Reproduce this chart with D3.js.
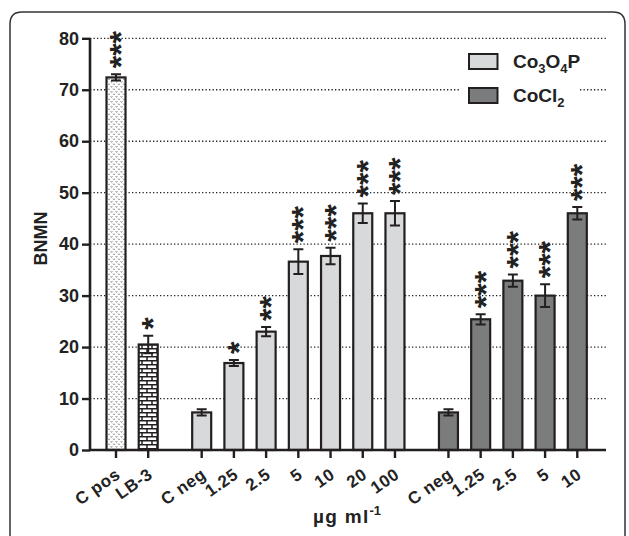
<!DOCTYPE html>
<html><head><meta charset="utf-8">
<script src="https://cdn.jsdelivr.net/npm/d3@7"></script>
<style>
html,body{margin:0;padding:0;background:#fff;}
svg{display:block;}
</style></head>
<body>
<svg id="c" width="629" height="536" font-family="Liberation Sans, Arial, sans-serif" font-weight="bold"></svg>
<script>
const labels = ["C pos","LB-3","C neg","1.25","2.5","5","10","20","100","C neg","1.25","2.5","5","10"];
const groups = [0,0,1,1,1,1,1,1,1,2,2,2,2,2];
const values = [72.4,20.5,7.3,16.9,23.0,36.6,37.7,46.0,46.0,7.3,25.4,32.9,30.0,46.0];
const errors = [0.6,1.7,0.6,0.6,0.9,2.4,1.6,1.9,2.4,0.6,1.0,1.2,2.2,1.2];
const stars  = [3,1,0,1,2,3,3,3,3,0,3,3,3,3];
const fillKeys = ["stipple","brick","light","light","light","light","light","light","light","dark","dark","dark","dark","dark"];
const yTicks = [0,10,20,30,40,50,60,70,80];

const groupGap = 0.66;
const slots = labels.map((d,i)=> i + groups[i]*groupGap);
const rows = values.map((v,i)=>({i, v, e:errors[i], s:stars[i], slot:slots[i], fill:fillKeys[i]}));

const svg = d3.select("#c");
const colors = {light:"#d8d9da", dark:"#7b7c7e", stroke:"#231f20"};

// patterns
const defs = svg.append("defs");
const pS = defs.append("pattern").attr("id","stipple").attr("patternUnits","userSpaceOnUse")
  .attr("width",5).attr("height",5);
pS.append("rect").attr("width",5).attr("height",5).attr("fill","#fff");
pS.append("path").attr("d","M0.5,1 L1.5,2.5 L2.5,1 M3,3.5 L4,5 L5,3.5").attr("stroke","#8a8a8a").attr("stroke-width",0.8).attr("fill","none");
const pB = defs.append("pattern").attr("id","brick").attr("patternUnits","userSpaceOnUse")
  .attr("width",10).attr("height",8);
pB.append("rect").attr("width",10).attr("height",8).attr("fill","#fff");
pB.append("path").attr("d","M0,0.75 H10 M0,4.75 H10 M2,0.75 V4.75 M7,4.75 V8.75")
  .attr("stroke",colors.stroke).attr("stroke-width",1.5).attr("fill","none");

// frame
svg.append("path")
  .attr("d","M10,560 V24 Q10,12 22,12 H613 Q625,12 625,24 V560")
  .attr("fill","none").attr("stroke","#333").attr("stroke-width",1.5);

const y = d3.scaleLinear().domain([0,80]).range([450,38.3]);
const x = d3.scaleLinear().domain([0,14.32]).range([116,577.3]);
const xLeft = 90, xRight = 606;
const barW = 19;

// gridlines
svg.append("g").selectAll("line").data(yTicks.filter(t=>t>0)).join("line")
  .attr("x1",xLeft).attr("x2",xRight).attr("y1",d=>y(d)).attr("y2",d=>y(d))
  .attr("stroke","#222").attr("stroke-width",1.3).attr("stroke-dasharray","1.3,2.2");

// legend background
svg.append("rect").attr("x",459).attr("y",45).attr("width",119).attr("height",70).attr("fill","#fff");

// bars
const fillOf = k => k==="light"?colors.light:k==="dark"?colors.dark:`url(#${k})`;
svg.append("g").selectAll("rect").data(rows).join("rect")
  .attr("x",d=>x(d.slot)-barW/2).attr("width",barW)
  .attr("y",d=>y(d.v)).attr("height",d=>y(0)-y(d.v))
  .attr("fill",d=>fillOf(d.fill)).attr("stroke",colors.stroke).attr("stroke-width",2.2);

// error bars
svg.append("g").attr("stroke",colors.stroke).attr("stroke-width",2).attr("fill","none")
  .selectAll("path").data(rows).join("path")
  .attr("d",d=>{
    const cx = x(d.slot), hi = y(d.v+d.e), lo = y(d.v-d.e);
    return `M${cx},${hi} V${lo} M${cx-5},${hi} H${cx+5} M${cx-5},${lo} H${cx+5}`;
  });

// significance stars (rotated column of asterisks)
const sf = 32;
svg.append("g").attr("font-size",sf).attr("fill","#222")
  .selectAll("text").data(rows.filter(d=>d.s>0)).join("text")
  .attr("transform",d=>`translate(${x(d.slot) + 0.5*sf},${y(d.v+d.e) - 6}) rotate(-90)`)
  .text(d=>"*".repeat(d.s));

// y axis
const yAxis = d3.axisLeft(y).tickValues(yTicks).tickSize(8).tickPadding(3);
const ga = svg.append("g").attr("transform",`translate(${xLeft},0)`).call(yAxis);
ga.attr("font-family",null).attr("font-size",null);
ga.select(".domain").attr("stroke",colors.stroke).attr("stroke-width",2.6).attr("d",`M0,${y(0)}V${y(80)}`);
ga.selectAll(".tick line").attr("stroke",colors.stroke).attr("stroke-width",2.4);
ga.selectAll(".tick text").attr("font-size",18).attr("fill","#222");

// x axis
const xg = svg.append("g");
xg.append("line").attr("x1",xLeft-1).attr("x2",xRight).attr("y1",y(0)).attr("y2",y(0))
  .attr("stroke",colors.stroke).attr("stroke-width",2.6);
xg.selectAll("line.t").data(slots).join("line").attr("class","t")
  .attr("x1",d=>x(d)).attr("x2",d=>x(d)).attr("y1",y(0)).attr("y2",y(0)+8)
  .attr("stroke",colors.stroke).attr("stroke-width",2.4);
xg.selectAll("text.xl").data(labels).join("text").attr("class","xl")
  .attr("transform",(d,i)=>`translate(${x(slots[i])+5.5},${y(0)+27}) rotate(-35)`)
  .attr("text-anchor","end").attr("font-size",17).attr("letter-spacing",0.6).attr("fill","#222").text(d=>d);

// axis titles
svg.append("text").attr("transform","translate(47,238.5) rotate(-90)").attr("text-anchor","middle")
  .attr("font-size",18).attr("fill","#222").text("BNMN");
const xt = svg.append("text").attr("x",313).attr("y",523).attr("font-size",19)
  .attr("letter-spacing",1.3).attr("fill","#222");
xt.append("tspan").text("µg ml");
xt.append("tspan").attr("dy",-8).attr("font-size",13).attr("letter-spacing",0).text("-1");

// legend
const lg = svg.append("g");
[["light",54],["dark",88]].forEach(([k,ly])=>{
  lg.append("rect").attr("x",469).attr("y",ly).attr("width",28.5).attr("height",15)
    .attr("fill",colors[k]).attr("stroke",colors.stroke).attr("stroke-width",2);
});
const t1 = lg.append("text").attr("x",513).attr("y",68).attr("font-size",19).attr("fill","#222");
t1.append("tspan").text("Co");
t1.append("tspan").attr("font-size",13).attr("dy",5).text("3");
t1.append("tspan").attr("dy",-5).text("O");
t1.append("tspan").attr("font-size",13).attr("dy",5).text("4");
t1.append("tspan").attr("dy",-5).text("P");
const t2 = lg.append("text").attr("x",513).attr("y",101.5).attr("font-size",19).attr("fill","#222");
t2.append("tspan").text("CoCl");
t2.append("tspan").attr("font-size",13).attr("dy",5).text("2");
</script>
</body></html>
